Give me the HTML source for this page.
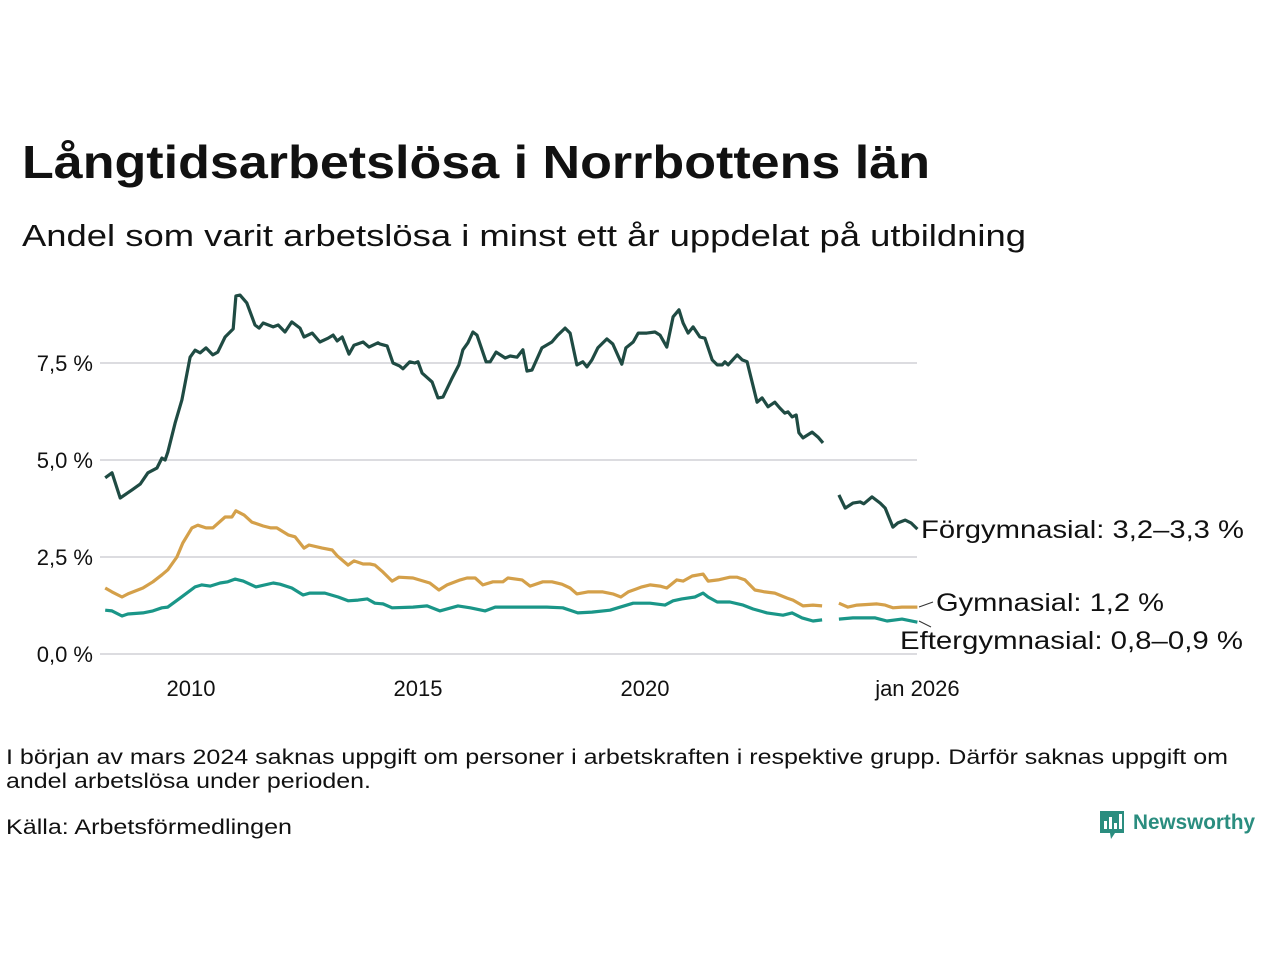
<!DOCTYPE html>
<html><head><meta charset="utf-8"><style>
html,body{margin:0;padding:0;background:#fff;width:1280px;height:960px;overflow:hidden}
svg{display:block;font-family:"Liberation Sans",sans-serif}
</style></head><body>
<svg id="chart" width="1280" height="960">
<text x="22" y="178" font-size="46" font-weight="bold" fill="#111" textLength="908" lengthAdjust="spacingAndGlyphs">Långtidsarbetslösa i Norrbottens län</text>
<text x="22" y="246" font-size="31" fill="#111" textLength="1004" lengthAdjust="spacingAndGlyphs">Andel som varit arbetslösa i minst ett år uppdelat på utbildning</text>
<g id="grid"></g>
<g id="yticks"></g>
<g id="xticks"></g>
<g id="lines"></g>
<line x1="919" y1="607" x2="933" y2="602" stroke="#333" stroke-width="1"/>
<line x1="919" y1="621" x2="931" y2="627" stroke="#333" stroke-width="1"/>
<text x="921" y="538" font-size="25" fill="#111" textLength="323" lengthAdjust="spacingAndGlyphs">Förgymnasial: 3,2–3,3 %</text>
<text x="936" y="611" font-size="25" fill="#111" textLength="228" lengthAdjust="spacingAndGlyphs">Gymnasial: 1,2 %</text>
<text x="900" y="649" font-size="25" fill="#111" textLength="343" lengthAdjust="spacingAndGlyphs">Eftergymnasial: 0,8–0,9 %</text>
<text x="6" y="764" font-size="21" fill="#111" textLength="1222" lengthAdjust="spacingAndGlyphs">I början av mars 2024 saknas uppgift om personer i arbetskraften i respektive grupp. Därför saknas uppgift om</text>
<text x="6" y="788" font-size="21" fill="#111" textLength="365" lengthAdjust="spacingAndGlyphs">andel arbetslösa under perioden.</text>
<text x="6" y="834" font-size="21" fill="#111" textLength="286" lengthAdjust="spacingAndGlyphs">Källa: Arbetsförmedlingen</text>
<g>
<path d="M1100 811 h24 v22 h-9 l-4 6 l-1 -6 h-10 z" fill="#2a8d7f"/>
<rect x="1104" y="821" width="3" height="8" fill="#fff"/><rect x="1109" y="817" width="3" height="12" fill="#fff"/><rect x="1114" y="823" width="3" height="6" fill="#fff"/><rect x="1119" y="814" width="3" height="15" fill="#fff"/>
<text x="1133" y="829" font-size="21" font-weight="bold" fill="#2a8d7f" textLength="122" lengthAdjust="spacingAndGlyphs">Newsworthy</text>
</g>
</svg>
<script>
const yTicks=[0,2.5,5,7.5];
const yTickLabels=["0,0 %","2,5 %","5,0 %","7,5 %"];
const xTicks=[2010,2015,2020,2026];
const xTickLabels=["2010","2015","2020","jan 2026"];
const gapStart=2024.0;
const forgDates=[2008.11,2008.26,2008.44,2008.70,2008.88,2009.05,2009.25,2009.36,2009.43,2009.49,2009.65,2009.80,2009.98,2010.09,2010.20,2010.33,2010.48,2010.59,2010.75,2010.93,2010.99,2011.08,2011.23,2011.41,2011.50,2011.59,2011.81,2011.92,2012.07,2012.22,2012.40,2012.49,2012.67,2012.84,2013.02,2013.13,2013.22,2013.33,2013.48,2013.59,2013.79,2013.92,2014.12,2014.16,2014.32,2014.45,2014.60,2014.67,2014.82,2014.93,2015.00,2015.09,2015.31,2015.44,2015.55,2015.75,2015.90,2015.99,2016.10,2016.21,2016.30,2016.50,2016.59,2016.72,2016.92,2017.03,2017.18,2017.31,2017.40,2017.51,2017.73,2017.95,2018.08,2018.24,2018.35,2018.50,2018.63,2018.72,2018.83,2018.96,2019.16,2019.29,2019.49,2019.58,2019.74,2019.85,2020.04,2020.22,2020.33,2020.48,2020.62,2020.75,2020.84,2020.95,2021.06,2021.21,2021.32,2021.48,2021.59,2021.70,2021.76,2021.83,2022.03,2022.14,2022.25,2022.31,2022.47,2022.58,2022.71,2022.86,2022.97,2023.08,2023.15,2023.24,2023.33,2023.39,2023.48,2023.68,2023.81,2023.92,2024.27,2024.41,2024.58,2024.74,2024.82,2025.00,2025.18,2025.29,2025.46,2025.57,2025.73,2025.86,2026.00];
const forgValues=[4.54,4.67,4.02,4.23,4.38,4.67,4.79,5.05,5.0,5.2,5.95,6.55,7.65,7.83,7.76,7.89,7.71,7.78,8.17,8.38,9.23,9.25,9.05,8.48,8.4,8.53,8.43,8.48,8.3,8.56,8.4,8.17,8.27,8.04,8.14,8.22,8.07,8.17,7.73,7.96,8.04,7.91,8.02,7.99,7.94,7.5,7.42,7.35,7.53,7.5,7.53,7.24,7.01,6.6,6.62,7.11,7.45,7.84,8.02,8.3,8.22,7.53,7.53,7.78,7.63,7.68,7.65,7.84,7.29,7.32,7.89,8.04,8.22,8.4,8.27,7.45,7.53,7.4,7.58,7.89,8.12,7.99,7.47,7.89,8.04,8.27,8.27,8.3,8.22,7.91,8.69,8.87,8.53,8.27,8.43,8.17,8.14,7.58,7.45,7.45,7.53,7.45,7.71,7.58,7.53,7.24,6.49,6.6,6.37,6.49,6.34,6.21,6.24,6.11,6.16,5.7,5.57,5.72,5.59,5.44,4.1,3.76,3.89,3.92,3.87,4.05,3.89,3.76,3.27,3.38,3.45,3.38,3.22];
const gymDates=[2008.11,2008.26,2008.48,2008.61,2008.94,2009.16,2009.36,2009.49,2009.69,2009.82,2010.02,2010.15,2010.33,2010.48,2010.75,2010.90,2010.99,2011.17,2011.34,2011.59,2011.76,2011.89,2012.14,2012.29,2012.49,2012.60,2012.89,2013.11,2013.22,2013.46,2013.59,2013.79,2013.94,2014.05,2014.23,2014.43,2014.58,2014.89,2015.26,2015.46,2015.64,2015.93,2016.08,2016.26,2016.43,2016.65,2016.87,2016.98,2017.29,2017.47,2017.75,2017.95,2018.17,2018.35,2018.50,2018.74,2019.07,2019.29,2019.47,2019.63,2019.93,2020.11,2020.33,2020.48,2020.70,2020.84,2021.04,2021.28,2021.39,2021.61,2021.87,2022.03,2022.20,2022.42,2022.64,2022.86,2023.13,2023.26,2023.48,2023.70,2023.90,2024.27,2024.47,2024.67,2025.11,2025.29,2025.46,2025.66,2026.00];
const gymValues=[1.70,1.60,1.47,1.55,1.70,1.86,2.04,2.17,2.5,2.86,3.25,3.32,3.25,3.25,3.53,3.53,3.69,3.58,3.4,3.3,3.25,3.25,3.07,3.02,2.73,2.81,2.73,2.68,2.53,2.29,2.4,2.32,2.32,2.29,2.11,1.88,1.98,1.96,1.83,1.65,1.78,1.91,1.96,1.96,1.78,1.86,1.86,1.96,1.91,1.75,1.86,1.86,1.80,1.70,1.55,1.60,1.60,1.55,1.47,1.60,1.73,1.78,1.75,1.70,1.91,1.88,2.01,2.06,1.88,1.91,1.98,1.98,1.91,1.65,1.60,1.57,1.44,1.39,1.24,1.26,1.24,1.31,1.21,1.26,1.29,1.26,1.19,1.21,1.21];
const eftDates=[2008.11,2008.26,2008.48,2008.61,2008.94,2009.16,2009.36,2009.49,2009.76,2010.09,2010.24,2010.42,2010.64,2010.81,2010.97,2011.15,2011.43,2011.81,2011.96,2012.22,2012.47,2012.62,2012.95,2013.24,2013.46,2013.68,2013.88,2014.05,2014.23,2014.43,2014.89,2015.20,2015.48,2015.88,2016.15,2016.48,2016.70,2017.03,2017.40,2017.84,2018.19,2018.39,2018.52,2018.83,2019.23,2019.40,2019.74,2020.11,2020.44,2020.62,2020.81,2021.10,2021.28,2021.39,2021.59,2021.87,2022.16,2022.38,2022.69,2023.04,2023.24,2023.46,2023.70,2023.90,2024.27,2024.58,2025.07,2025.33,2025.66,2026.00];
const eftValues=[1.13,1.11,0.98,1.03,1.06,1.11,1.19,1.21,1.44,1.73,1.78,1.75,1.83,1.86,1.93,1.88,1.73,1.83,1.80,1.70,1.52,1.57,1.57,1.47,1.37,1.39,1.42,1.31,1.29,1.19,1.21,1.24,1.11,1.24,1.19,1.11,1.21,1.21,1.21,1.21,1.19,1.11,1.06,1.08,1.13,1.19,1.31,1.31,1.26,1.37,1.42,1.47,1.57,1.47,1.34,1.34,1.26,1.16,1.06,1.0,1.06,0.93,0.85,0.88,0.9,0.93,0.93,0.85,0.9,0.82];

const NS='http://www.w3.org/2000/svg';
function xScale(yr){return 191+(yr-2010)*45.4;}
function yScale(v){return 654-v*38.8;}
const grid=document.getElementById('grid'),yt=document.getElementById('yticks'),xt=document.getElementById('xticks'),lines=document.getElementById('lines');
yTicks.forEach((v,i)=>{
  const l=document.createElementNS(NS,'line');
  l.setAttribute('x1',100);l.setAttribute('x2',917);l.setAttribute('y1',yScale(v));l.setAttribute('y2',yScale(v));
  l.setAttribute('stroke','#dcdce0');l.setAttribute('stroke-width','2');
  
  
  grid.appendChild(l);
  const t=document.createElementNS(NS,'text');
  t.setAttribute('x',93);t.setAttribute('y',yScale(v)+8);t.setAttribute('text-anchor','end');t.setAttribute('font-size','22');t.setAttribute('fill','#111');
  t.textContent=yTickLabels[i];
  
  
  yt.appendChild(t);
});
xTicks.forEach((v,i)=>{
  const t=document.createElementNS(NS,'text');
  t.setAttribute('x',xScale(v));t.setAttribute('y',696);t.setAttribute('text-anchor','middle');t.setAttribute('font-size','22');t.setAttribute('fill','#111');
  t.textContent=xTickLabels[i];
  
  
  xt.appendChild(t);
});
function draw(dates,vals,color,name){
  let d='';
  for(let i=0;i<dates.length;i++){
    const brk=i===0||(dates[i-1]<gapStart&&dates[i]>gapStart);
    d+=(brk?'M':'L')+xScale(dates[i]).toFixed(1)+' '+yScale(vals[i]).toFixed(1)+' ';
  }
  const p=document.createElementNS(NS,'path');
  p.setAttribute('d',d);p.setAttribute('fill','none');p.setAttribute('stroke',color);p.setAttribute('stroke-width','3.2');p.setAttribute('stroke-linejoin','round');
  
  
  lines.appendChild(p);
}
draw(eftDates,eftValues,'#1a9688','line-eftergymnasial');
draw(gymDates,gymValues,'#d4a04a','line-gymnasial');
draw(forgDates,forgValues,'#1f4b43','line-forgymnasial');
</script>
</body></html>
